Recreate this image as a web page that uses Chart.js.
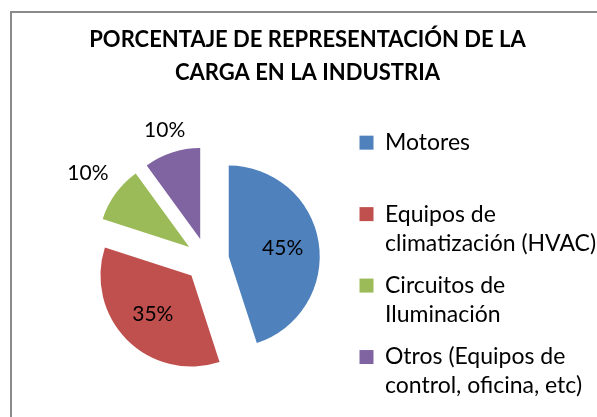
<!DOCTYPE html>
<html>
<head>
<meta charset="utf-8">
<script src="https://cdn.jsdelivr.net/npm/chart.js@4.4.1/dist/chart.umd.min.js"></script>
<style>
  body { margin: 0; background: #fff; }
  #wrap { width: 597px; height: 417px; }
</style>
</head>
<body>
<div id="wrap"><canvas id="myChart" width="597" height="417"></canvas></div>
<script>
const titleLines = ['PORCENTAJE DE REPRESENTACIÓN DE LA', 'CARGA EN LA INDUSTRIA'];
const categories = [
    ['Motores', ''],
    ['Equipos de', 'climatización (HVAC)'],
    ['Circuitos de', 'Iluminación'],
    ['Otros (Equipos de', 'control, oficina, etc)']
];
const shares = [45, 35, 10, 10];

const EXPLODE = 22;

// white page, excel-like frame (top and left edges) and the two-line title
const frame = {
    id: 'frame',
    beforeDraw(chart) {
        const ctx = chart.ctx;
        ctx.save();
        ctx.fillStyle = '#fff';
        ctx.fillRect(0, 0, chart.width, chart.height);
        ctx.strokeStyle = '#8a8a8a';
        ctx.lineWidth = 2;
        ctx.beginPath();
        ctx.moveTo(11, chart.height);
        ctx.lineTo(11, 12);
        ctx.lineTo(chart.width, 12);
        ctx.stroke();

        ctx.fillStyle = '#000';
        ctx.font = 'bold 22px Lato';
        ctx.textAlign = 'center';
        ctx.textBaseline = 'middle';
        titleLines.forEach((line, i) => ctx.fillText(line, 307.5, 39.5 + i * 33.5));
        ctx.restore();
    }
};

// pull every slice out from the centre
const explode = {
    id: 'explode',
    beforeDatasetDraw(chart, args) {
        const ctx = chart.ctx;
        args.meta.data.forEach(arc => {
            const mid = (arc.startAngle + arc.endAngle) / 2;
            ctx.save();
            ctx.translate(Math.cos(mid) * EXPLODE, Math.sin(mid) * EXPLODE);
            arc.draw(ctx);
            ctx.restore();
        });
        return false;
    }
};

const sliceLabels = {
    id: 'sliceLabels',
    afterDatasetsDraw(chart) {
        const ctx = chart.ctx;
        const meta = chart.getDatasetMeta(0);
        const total = shares.reduce((a, b) => a + b, 0);
        ctx.save();
        ctx.font = '21px Lato';
        ctx.fillStyle = '#000';
        ctx.textAlign = 'center';
        ctx.textBaseline = 'middle';
        meta.data.forEach((arc, i) => {
            const mid = (arc.startAngle + arc.endAngle) / 2;
            const cos = Math.cos(mid), sin = Math.sin(mid);
            const text = Math.round(shares[i] / total * 100) + '%';
            let d;
            if (arc.endAngle - arc.startAngle > 1) {
                d = EXPLODE + arc.outerRadius * 0.6;
            } else {
                const hw = ctx.measureText(text).width / 2;
                d = EXPLODE + arc.outerRadius + 8 + Math.abs(cos) * (hw + 6) + Math.abs(sin) * 8;
            }
            ctx.fillText(text, arc.x + cos * d, arc.y + sin * d);
        });
        ctx.restore();
    }
};

Chart.defaults.font.family = 'Lato';
Chart.defaults.color = '#000';

const ctx = document.getElementById('myChart');

new Chart(ctx, {
    type: 'pie',
    data: {
        labels: categories,
        datasets: [{
            data: shares,
            backgroundColor: ['#4F81BD', '#C0504D', '#9BBB59', '#8064A2'],
            borderWidth: 0
        }]
    },
    options: {
        responsive: false,
        animation: false,
        radius: 91,
        layout: {
            padding: { left: 68, right: 0, top: 103, bottom: 0 }
        },
        plugins: {
            title: { display: false },
            legend: {
                position: 'right',
                align: 'end',
                fullSize: false,
                maxWidth: 251,
                labels: {
                    color: '#000',
                    boxWidth: 14,
                    boxHeight: 14,
                    padding: 13.5,
                    font: { size: 23, lineHeight: 1.26 }
                }
            },
            tooltip: { enabled: false }
        }
    },
    plugins: [frame, explode, sliceLabels]
});
</script>
</body>
</html>
